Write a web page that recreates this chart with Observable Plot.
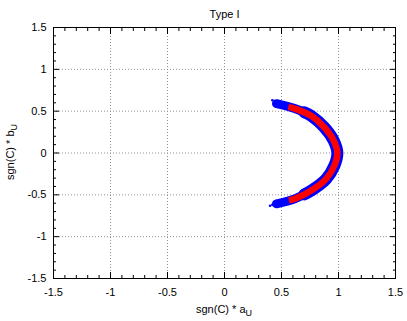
<!DOCTYPE html>
<html>
<head>
<meta charset="utf-8">
<script src="https://cdn.jsdelivr.net/npm/d3@7"></script>
<script src="https://cdn.jsdelivr.net/npm/@observablehq/plot@0.6"></script>
<style>
  html, body { margin: 0; padding: 0; background: #fff; }
  svg { font-family: "Liberation Sans", Arial, sans-serif; }
</style>
</head>
<body>
<div id="chart"></div>
<script>
const title = "Type I";
const xLabelMain = "sgn(C) * a";
const yLabelMain = "sgn(C) * b";
const labelSub = "U";

const xMajorTicks = [-1.5, -1, -0.5, 0, 0.5, 1, 1.5];
const yMajorTicks = [-1.5, -1, -0.5, 0, 0.5, 1, 1.5];
const gridTicks = [-1, -0.5, 0, 0.5, 1];
const minorTicks = [-1.4, -1.3, -1.2, -1.1, -0.9, -0.8, -0.7, -0.6, -0.4, -0.3, -0.2, -0.1,
                    0.1, 0.2, 0.3, 0.4, 0.6, 0.7, 0.8, 0.9, 1.1, 1.2, 1.3, 1.4];

// blue band (all points) centerline
const blueX = [0.456, 0.616, 0.761, 0.877, 0.959, 0.990, 0.964, 0.892, 0.761, 0.616, 0.456];
const blueY = [0.590, 0.531, 0.444, 0.305, 0.146, 0.000, -0.151, -0.310, -0.449, -0.548, -0.607];
// wider middle part of the blue band
const blueMidX = [0.70, 0.761, 0.877, 0.959, 0.990, 0.964, 0.892, 0.761, 0.70];
const blueMidY = [0.488, 0.444, 0.305, 0.146, 0.000, -0.151, -0.310, -0.449, -0.495];
// red band (subset) centerline
const redX = [0.560, 0.616, 0.761, 0.877, 0.959, 0.990, 0.964, 0.892, 0.761, 0.616, 0.565];
const redY = [0.552, 0.531, 0.444, 0.305, 0.146, 0.000, -0.151, -0.310, -0.449, -0.548, -0.564];
// stray blue points
const strayX = [0.42, 0.44, 0.40, 0.42];
const strayY = [0.63, 0.61, -0.63, -0.62];

const blue = blueX.map((x, i) => ({x, y: blueY[i]}));
const blueMid = blueMidX.map((x, i) => ({x, y: blueMidY[i]}));
const red = redX.map((x, i) => ({x, y: redY[i]}));
const stray = strayX.map((x, i) => ({x, y: strayY[i]}));

const gridStyle = {stroke: "#909090", strokeOpacity: 1, strokeDasharray: "1,2"};

const plot = Plot.plot({
  width: 407,
  height: 321,
  marginTop: 27,
  marginBottom: 43,
  marginLeft: 53,
  marginRight: 12,
  style: {fontFamily: "'Liberation Sans', Arial, sans-serif", fontSize: "11px", background: "#fff"},
  x: {domain: [-1.5, 1.5]},
  y: {domain: [-1.5, 1.5]},
  marks: [
    Plot.gridX(gridTicks, gridStyle),
    Plot.gridY(gridTicks, gridStyle),
    Plot.line(blue, {x: "x", y: "y", stroke: "#0000ff", strokeWidth: 9, strokeLinecap: "round", curve: "catmull-rom"}),
    Plot.line(blueMid, {x: "x", y: "y", stroke: "#0000ff", strokeWidth: 12, strokeLinecap: "round", curve: "catmull-rom"}),
    Plot.line(red, {x: "x", y: "y", stroke: "#ff0000", strokeWidth: 6.5, strokeLinecap: "butt", curve: "catmull-rom"}),
    Plot.dot(stray, {x: "x", y: "y", r: 1.3, fill: "#0000ff", stroke: null}),
    Plot.frame({stroke: "#000"}),
    // major ticks inward, all four sides
    Plot.axisX(xMajorTicks, {anchor: "bottom", tickSize: -6, tickFormat: () => "", label: null}),
    Plot.axisX(xMajorTicks, {anchor: "top", tickSize: -6, tickFormat: () => "", label: null}),
    Plot.axisY(yMajorTicks, {anchor: "left", tickSize: -6, tickFormat: () => "", label: null}),
    Plot.axisY(yMajorTicks, {anchor: "right", tickSize: -6, tickFormat: () => "", label: null}),
    // minor ticks
    Plot.axisX(minorTicks, {anchor: "bottom", tickSize: -3, tickFormat: () => "", label: null}),
    Plot.axisX(minorTicks, {anchor: "top", tickSize: -3, tickFormat: () => "", label: null}),
    Plot.axisY(minorTicks, {anchor: "left", tickSize: -3, tickFormat: () => "", label: null}),
    Plot.axisY(minorTicks, {anchor: "right", tickSize: -3, tickFormat: () => "", label: null}),
    // tick labels
    Plot.axisX(xMajorTicks, {anchor: "bottom", tickSize: 0, tickPadding: 10, tickFormat: d => String(d), label: null, fill: "#000"}),
    Plot.axisY(yMajorTicks, {anchor: "left", tickSize: 0, tickPadding: 7, tickFormat: d => String(d), label: null, fill: "#000"}),
    Plot.text([title], {frameAnchor: "top", dy: -17, fill: "#000", fontSize: 11})
  ]
});

const svg = d3.select(plot);
// axis labels with subscript
const xl = svg.append("text")
  .attr("x", 224).attr("y", 313)
  .attr("text-anchor", "middle").attr("fill", "#000").attr("font-size", 11);
xl.append("tspan").text(xLabelMain);
xl.append("tspan").attr("dy", 3).attr("font-size", 9).text(labelSub);

const yl = svg.append("text")
  .attr("transform", "translate(14,152) rotate(-90)")
  .attr("text-anchor", "middle").attr("fill", "#000").attr("font-size", 11);
yl.append("tspan").text(yLabelMain);
yl.append("tspan").attr("dy", 3).attr("font-size", 9).text(labelSub);

document.getElementById("chart").appendChild(plot);
</script>
</body>
</html>
